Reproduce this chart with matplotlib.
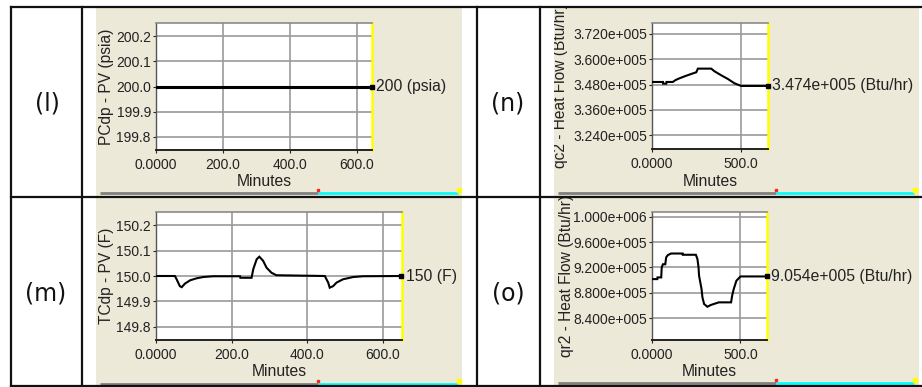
import matplotlib
matplotlib.use("Agg")
import math
import matplotlib.pyplot as plt
from matplotlib.patches import Rectangle
from matplotlib.lines import Line2D
from matplotlib.ticker import FixedLocator, FuncFormatter
from matplotlib.transforms import Bbox, TransformedBbox

# ---------------- data ----------------
panel_labels = ["(l)", "(n)", "(m)", "(o)"]

l_time = [0, 645]
l_vals = [200.0, 200.0]

m_time = [0, 50, 54.5, 63, 68, 76.5, 90, 107.5, 125, 151, 222, 223, 252.5, 257, 266, 273,
          283, 292, 305, 318, 446, 455, 459, 468, 477, 494, 521, 547, 648]
m_vals = [150.0, 150.0, 149.987, 149.960, 149.956, 149.970, 149.983, 149.991, 149.996, 149.999,
          149.999, 149.993, 149.993, 150.027, 150.066, 150.076, 150.060, 150.033, 150.013, 150.003,
          150.0, 149.974, 149.954, 149.960, 149.974, 149.987, 149.996, 149.999, 150.0]

n_time = [0, 61.5, 62, 80, 81, 117, 127, 145, 183, 220, 248, 257, 332, 350, 388, 425, 462, 500, 650]
n_vals = [349260, 349260, 348470, 348470, 349260, 349260, 349900, 350690, 351950, 353060, 353850,
          355580, 355580, 354320, 352420, 350690, 348630, 347370, 347370]

o_time = [0, 30, 31, 52, 55, 61.5, 75, 80, 89, 108, 173, 174, 248, 257, 263, 266, 280, 285, 294.5,
          313, 332, 360, 378, 447, 453, 462, 477, 500, 650]
o_vals = [901600, 901600, 904250, 904250, 920000, 925000, 925000, 935750, 939400, 942000, 942000,
          940000, 940000, 933000, 920000, 906900, 885900, 872800, 862300, 858000, 860700, 863300,
          864900, 864900, 875400, 885900, 899000, 905800, 905800]

l_yticks = [199.8, 199.9, 200.0, 200.1, 200.2]
m_yticks = [149.8, 149.9, 150.0, 150.1, 150.2]
n_yticks = [324000, 336000, 348000, 360000, 372000]
o_yticks = [840000, 880000, 920000, 960000, 1000000]
lm_xticks = [0, 200, 400, 600]
no_xticks = [0, 500]

y_titles = ["PCdp - PV (psia)", "qc2 - Heat Flow (Btu/hr)", "TCdp - PV (F)", "qr2 - Heat Flow (Btu/hr)"]
value_texts = ["200 (psia)", "3.474e+005 (Btu/hr)", "150 (F)", "9.054e+005 (Btu/hr)"]
current_vals = [200.0, 347400, 150.0, 905400]

# ---------------- layout ----------------
W, H = 922, 387
fig = plt.figure(figsize=(W / 100, H / 100), dpi=100)
fig.patch.set_facecolor("white")

def fx(px):
    return px / W

def fy(py):
    return 1 - py / H

def rect_fig(x0, y0, x1, y1):
    return [fx(x0), fy(y1), fx(x1) - fx(x0), fy(y0) - fy(y1)]

BEIGE = "#ECE9D8"
FONT = "Liberation Sans"

panels = [  # background extents (x0, y0, x1, y1)
    (96, 8, 462, 196),
    (554, 8, 919, 196),
    (96, 198, 462, 385),
    (554, 198, 919, 385),
]
plot_rects = [
    (156, 23, 372, 150),
    (652, 23, 768, 149),
    (156, 212, 402, 340),
    (652, 212, 767, 340),
]
ylims = [(199.748, 200.252), (317500, 377200), (149.748, 150.252), (805500, 1007500)]
xlims = [(0, 646), (0, 650), (0, 650), (0, 650)]
series = [(l_time, l_vals), (n_time, n_vals), (m_time, m_vals), (o_time, o_vals)]
yticks = [l_yticks, n_yticks, m_yticks, o_yticks]
xticks = [lm_xticks, no_xticks, lm_xticks, no_xticks]
ylabel_x = [106, 561, 106, 566]
label_centers = [(47, 104), (508, 104), (46, 294), (508, 293)]
bar_x = [(100, 318, 458), (558, 776, 914), (100, 318, 458), (558, 776, 914)]
bar_y = [193, 193, 384, 383]
lws = [2.2, 1.5, 1.5, 1.5]


def sci_fmt(v, pos=None):
    if v == 0:
        return "0.000e+000"
    e = int(math.floor(math.log10(abs(v))))
    m = v / 10 ** e
    return f"{m:.3f}e{'+' if e >= 0 else '-'}{abs(e):03d}"


def x_fmt(v, pos=None):
    return "0.0000" if v == 0 else f"{v:.1f}"


# panel backgrounds
for (x0, y0, x1, y1) in panels:
    fig.patches.append(Rectangle((fx(x0), fy(y1)), fx(x1) - fx(x0), fy(y0) - fy(y1),
                                 transform=fig.transFigure, facecolor=BEIGE, edgecolor="none", zorder=-5))

# bottom status bars
for (xa, xb, xc), yb in zip(bar_x, bar_y):
    fig.lines.append(Line2D([fx(xa), fx(xb)], [fy(yb), fy(yb)], transform=fig.transFigure,
                            color="#808080", lw=2.0, solid_capstyle="butt"))
    fig.lines.append(Line2D([fx(xb), fx(xc)], [fy(yb), fy(yb)], transform=fig.transFigure,
                            color="#00FFFF", lw=2.0, solid_capstyle="butt"))
    fig.lines.append(Line2D([fx(xb)], [fy(yb - 3)], transform=fig.transFigure, marker="s",
                            markersize=1.6, color="#FF2020", lw=0))
    fig.lines.append(Line2D([fx(xc + 1)], [fy(yb - 3)], transform=fig.transFigure, marker="s",
                            markersize=2.2, color="#FFFF00", lw=0))

for i in range(4):
    x0, y0, x1, y1 = plot_rects[i]
    ax = fig.add_axes(rect_fig(x0, y0, x1, y1), zorder=2)
    ax.set_facecolor("white")
    t, v = series[i]
    ax.plot(t, v, color="black", lw=lws[i], solid_joinstyle="miter", zorder=3)
    ax.plot([t[-1]], [v[-1]], marker="s", markersize=3, color="black", clip_on=False, zorder=4)
    ax.set_xlim(*xlims[i])
    ax.set_ylim(*ylims[i])
    ax.xaxis.set_major_locator(FixedLocator(xticks[i]))
    ax.xaxis.set_major_formatter(FuncFormatter(x_fmt))
    ax.yaxis.set_major_locator(FixedLocator(yticks[i]))
    if i in (1, 3):
        ax.yaxis.set_major_formatter(FuncFormatter(sci_fmt))
    else:
        ax.yaxis.set_major_formatter(FuncFormatter(lambda val, pos: f"{val:.1f}"))
    ax.grid(True, color="#9a9a9a", lw=1.2)
    ax.set_axisbelow(True)
    ax.tick_params(axis="y", length=2.5, width=0.8, pad=1.2, labelsize=10, colors="#222222")
    ax.tick_params(axis="x", length=2.5, width=0.8, pad=3.5, labelsize=10, colors="#222222")
    for lab in ax.get_xticklabels() + ax.get_yticklabels():
        lab.set_fontfamily(FONT)
    ax.spines["right"].set_color("#FFFF00")
    ax.spines["right"].set_linewidth(1.8)
    ax.spines["top"].set_color("#8a8a8a")
    ax.spines["top"].set_linewidth(1.2)
    ax.spines["left"].set_color("#555555")
    ax.spines["left"].set_linewidth(1.0)
    ax.spines["bottom"].set_color("#222222")
    ax.spines["bottom"].set_linewidth(1.4)

    # x label "Minutes"
    ylab_pix = y1 + 32
    fig.text(fx((x0 + x1) / 2), fy(ylab_pix), "Minutes", ha="center", va="center",
             fontsize=11.3, family=FONT, color="#222222")

    # y title, clipped to panel
    px0, py0, px1, py1 = panels[i]
    tt = fig.text(fx(ylabel_x[i]), fy((y0 + y1) / 2), y_titles[i], rotation=90, ha="center",
                  va="center", fontsize=11.2, family=FONT, color="#222222")
    tt.set_clip_box(TransformedBbox(Bbox.from_extents(fx(px0), fy(py1), fx(px1), fy(py0)),
                                    fig.transFigure))
    tt.set_clip_on(True)

    # current value label
    ax.annotate(value_texts[i], xy=(1.0, current_vals[i]), xycoords=("axes fraction", "data"),
                xytext=(3, 0), textcoords="offset points", ha="left", va="center",
                fontsize=11.3, family=FONT, color="#222222", annotation_clip=False)

# panel letter labels
for lab, (cx, cy) in zip(panel_labels, label_centers):
    fig.text(fx(cx), fy(cy), lab, ha="center", va="center", fontsize=17,
             family="DejaVu Sans", color="#111111")

# table borders
LW = 1.6
for yy in (7, 197, 385.5):
    fig.lines.append(Line2D([fx(11), fx(922)], [fy(yy), fy(yy)], transform=fig.transFigure,
                            color="#111111", lw=LW))
for xx in (11, 82, 477, 540):
    fig.lines.append(Line2D([fx(xx), fx(xx)], [fy(7), fy(385.5)], transform=fig.transFigure,
                            color="#111111", lw=LW))

fig.savefig("out.png", dpi=100)
